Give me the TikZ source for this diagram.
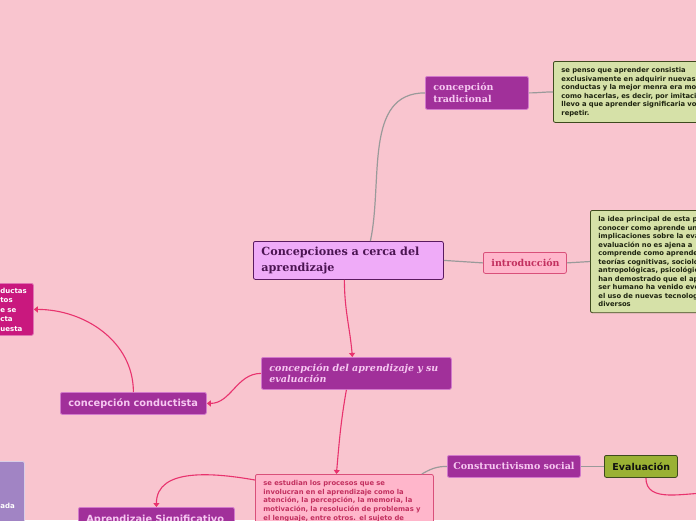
\documentclass[tikz,border=0pt]{standalone}
\usepackage{fontspec}
\setmainfont{DejaVu Serif}
\setsansfont{DejaVu Sans}
\usepackage{xcolor}
\usetikzlibrary{arrows.meta,positioning,calc}

\definecolor{bgpink}{HTML}{F9C5CF}
\definecolor{topicfill}{HTML}{A1309A}
\definecolor{topicline}{HTML}{D27ACB}
\definecolor{topictext}{HTML}{F6C8F1}
\definecolor{centrefill}{HTML}{EFABF8}
\definecolor{centreline}{HTML}{5A1A60}
\definecolor{centretext}{HTML}{4B1452}
\definecolor{notefill}{HTML}{D6E1A8}
\definecolor{noteline}{HTML}{3E4A1E}
\definecolor{notetext}{HTML}{1E2410}
\definecolor{softfill}{HTML}{FFB6CB}
\definecolor{softline}{HTML}{D9507A}
\definecolor{softtext}{HTML}{C2305F}
\definecolor{magentafill}{HTML}{C9187E}
\definecolor{lavenderfill}{HTML}{A184C4}
\definecolor{olivefill}{HTML}{9AB133}
\definecolor{olivetext}{HTML}{101010}
\definecolor{linkgrey}{HTML}{9A9A9A}
\definecolor{arrowpink}{HTML}{E8336E}

\begin{document}
\begin{tikzpicture}[x=1pt, y=1pt,
    box/.style={rectangle, rounded corners=2pt, draw, line width=0.8pt, anchor=north west, align=left, inner xsep=8pt},
    topic/.style={box, draw=topicline, fill=topicfill, text=topictext, font=\bfseries\fontsize{9.5}{11.5}\selectfont},
    sanstopic/.style={topic, font=\sffamily\bfseries\fontsize{9.8}{12}\selectfont},
    centrebox/.style={box, draw=centreline, fill=centrefill, text=centretext, font=\bfseries\fontsize{11.2}{16}\selectfont},
    notebox/.style={box, draw=noteline, fill=notefill, text=notetext, inner ysep=6pt, font=\sffamily\bfseries\fontsize{6.8}{8.5}\selectfont},
    softbox/.style={box, draw=softline, fill=softfill, text=softtext},
    link/.style={draw=linkgrey, line width=1.2pt},
    arrow/.style={draw=arrowpink, line width=1.1pt, -{Triangle[length=4pt,width=6pt]}}
]
\useasboundingbox (0,0) rectangle (696,-520);
\fill[bgpink] (0,0) rectangle (696,-520);
\clip (0,0) rectangle (696,-520);

% main topic
\node[centrebox, text width=174pt, minimum height=38pt] (centre) at (253,-241) {Concepciones a cerca del\\aprendizaje};

% upper right branch
\node[topic, text width=87pt, minimum height=33pt] (tradicional) at (425,-76) {concepción\\tradicional};
\node[notebox, text width=180pt] (tradnote) at (553,-61) {se penso que aprender consistia\\exclusivamente en adquirir nuevas\\conductas y la mejor menra era mostrando\\como hacerlas, es decir, por imitación\\llevo a que aprender significaria volver a\\repetir.};

\node[softbox, align=center, text width=67pt, minimum height=21pt, font=\bfseries\fontsize{9.5}{11.5}\selectfont] (intro) at (483,-252) {introducción};
\node[notebox, text width=150pt] (intronote) at (590,-210) {la idea principal de esta propuesta es\\conocer como aprende un\\implicaciones sobre la evaluación\\evaluación no es ajena a\\comprende como aprende\\teorías cognitivas, sociológicas\\antropológicas, psicológicas\\han demostrado que el aprendizaje\\ser humano ha venido evolucionando\\el uso de nuevas tecnologías\\diversos};

% lower branch
\node[topic, text width=174pt, minimum height=32pt, font=\bfseries\itshape\fontsize{9.5}{11}\selectfont] (evalconc) at (261,-357) {concepción del aprendizaje y su\\evaluación};
\node[sanstopic, text width=130pt, minimum height=22pt] (conductista) at (60,-392) {concepción conductista};
\node[box, draw=magentafill!60!white, fill=magentafill, text=white, inner xsep=10pt, text width=23pt, minimum height=52pt, font=\sffamily\bfseries\fontsize{7}{9.5}\selectfont] (conductnote) at (-10,-283) {ductas\\tos\\e se\\cta\\uesta};

\node[softbox, inner ysep=6pt, text width=162pt, font=\sffamily\bfseries\fontsize{6.8}{8.7}\selectfont] (procesos) at (255,-474) {se estudian los procesos que se\\involucran en el aprendizaje como la\\atención, la percepción, la memoria, la\\motivación, la resolución de problemas y\\el lenguaje, entre otros. el sujeto de\\aprendizaje};
\node[sanstopic, text width=140pt, minimum height=24pt] (significativo) at (78,-507) {Aprendizaje Significativo};
\node[box, draw=lavenderfill!40!white, fill=lavenderfill, text=white, inner xsep=10pt, text width=14pt, minimum height=88pt, font=\sffamily\bfseries\fontsize{7}{9}\selectfont] (lavnote) at (-10,-461) {ada};

\node[topic, align=center, minimum width=133pt, minimum height=22pt, inner xsep=4pt] (constructivismo) at (447,-455) {Constructivismo social};
\node[box, draw=noteline, fill=olivefill, text=olivetext, text width=57pt, minimum height=22pt, font=\sffamily\bfseries\fontsize{9.5}{11}\selectfont] (evaluacion) at (604,-455) {Evaluación};
\coordinate (offright) at (712,-493);

% connectors
\draw[link] ([xshift=22pt]centre.north) to[out=78,in=180] (tradicional.west);
\draw[link] (tradicional.east) to[out=0,in=180] (tradnote.west);
\draw[link] (centre.east) -- (intro.west);
\draw[link] (intro.east) -- (intronote.west);
\draw[arrow] ([xshift=-4pt]centre.south) to[out=-90,in=95] ([xshift=-4pt]evalconc.north);
\draw[arrow] (evalconc.west) to[out=180,in=0] (conductista.east);
\draw[arrow] (conductista.north) to[out=90,in=0] (conductnote.east);
\draw[arrow] ([xshift=-10pt]evalconc.south) to[out=-100,in=85] ([xshift=-8pt]procesos.north);
\draw[arrow] ([yshift=-6pt]procesos.north west) to[out=170,in=90] (significativo.north);
\draw[link] ([xshift=-12pt]procesos.north east) to[out=30,in=180] (constructivismo.west);
\draw[link] (constructivismo.east) -- (evaluacion.west);
\draw[draw=arrowpink, line width=1.1pt] ([xshift=5pt]evaluacion.south) to[out=-90,in=178] (offright);
\end{tikzpicture}
\end{document}
